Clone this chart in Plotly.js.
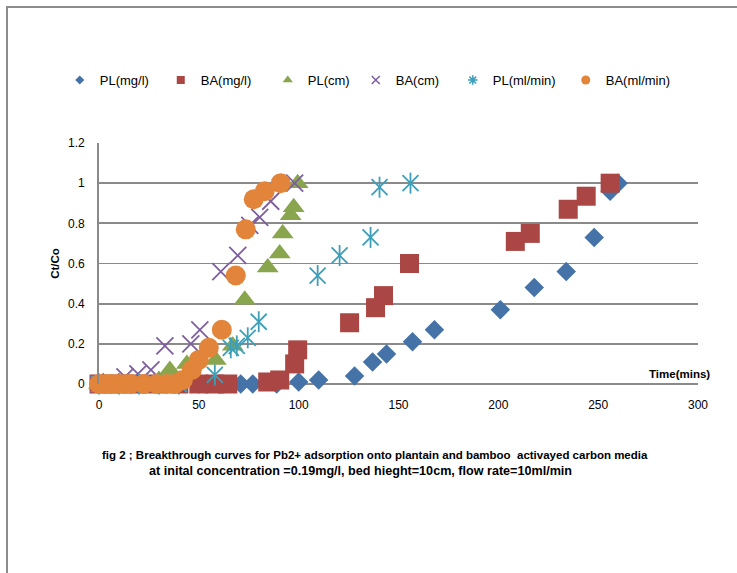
<!DOCTYPE html>
<html>
<head>
<meta charset="utf-8">
<script src="https://cdn.plot.ly/plotly-3.0.1.min.js"></script>
<style>
  html, body { margin: 0; padding: 0; background: #ffffff; }
  #wrap { position: relative; width: 737px; height: 573px; overflow: hidden; }
  #chart { position: absolute; left: 0; top: 0; width: 737px; height: 573px; }
  #frame { position: absolute; left: 6px; top: 6px; width: 760px; height: 600px;
           border-top: 2px solid #8c8c8c; border-left: 2px solid #8c8c8c; pointer-events: none; }
</style>
</head>
<body>
<div id="wrap">
  <div id="chart"></div>
  <div id="frame"></div>
</div>
<script>
// Breakthrough data: time (mins) vs Ct/Co for each run
const seriesNames = ['PL(mg/l)', 'BA(mg/l)', 'PL(cm)', 'BA(cm)', 'PL(ml/min)', 'BA(ml/min)'];

const plMgTime = [0, 5, 10, 15, 20, 25, 30, 40, 50, 60, 71, 77, 89, 100, 110, 128, 137, 144, 157, 168, 201, 218, 234, 248, 256, 260];
const plMgCtCo = [0, 0, 0, 0, 0, 0, 0, 0, 0, 0, 0, 0, 0, 0.01, 0.02, 0.04, 0.11, 0.15, 0.21, 0.27, 0.37, 0.48, 0.56, 0.73, 0.96, 1.0];

const baMgTime = [0, 10, 20, 30, 40, 50, 58, 64.5, 84.5, 90.5, 98, 99.5, 125.5, 138.5, 142.5, 155.5, 208.5, 216, 235, 244, 256];
const baMgCtCo = [0, 0, 0, 0, 0, 0, 0, 0, 0.01, 0.02, 0.1, 0.17, 0.305, 0.38, 0.44, 0.6, 0.71, 0.75, 0.87, 0.935, 1.0];

const plCmTime = [0, 10, 20, 30, 35.5, 44, 58.5, 67, 73, 84.5, 90.5, 92, 96, 97.5, 99.5];
const plCmCtCo = [0, 0, 0, 0.02, 0.07, 0.1, 0.12, 0.19, 0.42, 0.58, 0.65, 0.75, 0.84, 0.88, 1.0];

const baCmTime = [0, 6, 13, 19.5, 26, 33, 46, 50.5, 61, 69.5, 75.5, 80.5, 86, 98];
const baCmCtCo = [0, 0.01, 0.035, 0.05, 0.07, 0.19, 0.2, 0.27, 0.56, 0.64, 0.79, 0.83, 0.91, 1.0];

const plFlowTime = [0, 10, 20, 30, 40, 58, 66, 69, 74.5, 80, 109.5, 120.5, 136, 140.5, 156];
const plFlowCtCo = [0, 0, 0, 0, 0, 0.045, 0.18, 0.19, 0.23, 0.31, 0.54, 0.64, 0.73, 0.98, 1.0];

const baFlowTime = [0, 3, 6, 9.5, 13, 16, 22.5, 29, 34, 38, 42, 46.5, 50, 55, 61.5, 68.5, 73.5, 77.5, 83, 91];
const baFlowCtCo = [0, 0, 0, 0, 0, 0, 0, 0, 0, 0, 0.02, 0.07, 0.12, 0.18, 0.27, 0.54, 0.77, 0.92, 0.96, 1.0];

const xTicks = [0, 50, 100, 150, 200, 250, 300];
const yTicks = [0, 0.2, 0.4, 0.6, 0.8, 1, 1.2];

const colors = {
  blue: '#4572a7', red: '#aa4643', green: '#89a54e',
  purple: '#7d5fa0', teal: '#3d9fb8', orange: '#e2843a'
};

function pts(x, y, marker, extra) {
  return Object.assign({
    type: 'scatter', mode: 'markers', x: x, y: y,
    marker: marker, showlegend: false, cliponaxis: false, hoverinfo: 'x+y'
  }, extra || {});
}

function legendProxy(name, marker, width) {
  return {
    type: 'scatter', mode: 'markers', x: [null], y: [null], name: name,
    marker: marker, showlegend: true, legendwidth: width, hoverinfo: 'skip'
  };
}

const data = [
  pts(plMgTime, plMgCtCo, {symbol: 'diamond', size: 15, color: colors.blue, line: {width: 0}}, {legendgroup: 'a'}),
  pts(baMgTime, baMgCtCo, {symbol: 'square', size: 19, color: colors.red, line: {width: 0}}, {legendgroup: 'b'}),
  pts(plCmTime, plCmCtCo, {symbol: 'triangle-up', size: 19, color: colors.green, line: {width: 0}}, {legendgroup: 'c'}),
  pts(baCmTime, baCmCtCo, {symbol: 'x-thin-open', size: 17, color: colors.purple, line: {width: 1.8, color: colors.purple}}, {legendgroup: 'd'}),
  pts(plFlowTime, plFlowCtCo, {symbol: 'x-thin-open', size: 16, color: colors.teal, line: {width: 1.8, color: colors.teal}}, {legendgroup: 'e'}),
  pts(plFlowTime, plFlowCtCo, {symbol: 'line-ns-open', size: 15, color: colors.teal, line: {width: 1.8, color: colors.teal}}, {legendgroup: 'e'}),
  pts(baFlowTime, baFlowCtCo, {symbol: 'circle', size: 20, color: colors.orange, line: {width: 0}}, {legendgroup: 'f'}),

  legendProxy(seriesNames[0], {symbol: 'diamond', size: 7, color: colors.blue}, 56),
  legendProxy(seriesNames[1], {symbol: 'square', size: 8, color: colors.red}, 62),
  legendProxy(seriesNames[2], {symbol: 'triangle-up', size: 9, color: colors.green}, 43),
  legendProxy(seriesNames[3], {symbol: 'x-thin-open', size: 8, color: colors.purple, line: {width: 1.5, color: colors.purple}}, 52),
  legendProxy(seriesNames[4], {symbol: 'asterisk-open', size: 8, color: colors.teal, line: {width: 1.5, color: colors.teal}}, 68),
  legendProxy(seriesNames[5], {symbol: 'circle', size: 9, color: colors.orange}, 70)
];
data.slice(7).forEach((t, i) => { t.legendgroup = 'abcdef'[i]; });

const font = 'Liberation Sans, Arial, sans-serif';

const layout = {
  width: 737, height: 573,
  margin: {l: 99, r: 39, t: 143, b: 189},
  paper_bgcolor: '#ffffff', plot_bgcolor: '#ffffff',
  font: {family: font, size: 12, color: '#000000'},
  showlegend: true,
  legend: {
    orientation: 'h', x: -0.0655, xanchor: 'left', y: 1.261, yanchor: 'middle',
    font: {family: font, size: 13, color: '#000000'},
    bgcolor: 'rgba(0,0,0,0)', borderwidth: 0, traceorder: 'normal'
  },
  xaxis: {
    range: [0, 300], tickvals: xTicks, ticktext: xTicks.map(String),
    showgrid: false, zeroline: false, showline: false,
    ticks: 'outside', ticklen: 10, tickcolor: 'rgba(0,0,0,0)',
    tickfont: {family: font, size: 12, color: '#000000'}, fixedrange: true
  },
  yaxis: {
    range: [0, 1.2], tickvals: yTicks, ticktext: yTicks.map(String),
    showgrid: true, gridcolor: '#8a8a8a', gridwidth: 1.8,
    zeroline: true, zerolinecolor: '#8a8a8a', zerolinewidth: 1.8,
    showline: true, linecolor: '#8a8a8a', linewidth: 1.8,
    ticks: 'outside', ticklen: 10, tickcolor: 'rgba(0,0,0,0)',
    tickfont: {family: font, size: 12, color: '#000000'},
    title: {text: '<b>Ct/Co</b>', font: {family: font, size: 11.5, color: '#000000'}, standoff: 6},
    fixedrange: true
  },
  annotations: [
    {text: '<b>Time(mins)</b>', xref: 'paper', yref: 'paper', x: 1, y: 0,
     xanchor: 'right', yanchor: 'bottom', xshift: 14, yshift: 2, showarrow: false,
     font: {family: font, size: 11.5, color: '#000000'}},
    {text: '<b>fig 2 ; Breakthrough curves for Pb2+ adsorption onto plantain and bamboo  activayed carbon media</b>',
     xref: 'paper', yref: 'paper', x: 0.461, y: -0.295, xanchor: 'center', yanchor: 'middle',
     showarrow: false, font: {family: font, size: 11.5, color: '#000000'}},
    {text: '<b>at inital concentration =0.19mg/l, bed hieght=10cm, flow rate=10ml/min</b>',
     xref: 'paper', yref: 'paper', x: 0.436, y: -0.361, xanchor: 'center', yanchor: 'middle',
     showarrow: false, font: {family: font, size: 12.6, color: '#000000'}}
  ]
};

Plotly.newPlot('chart', data, layout, {staticPlot: true, displayModeBar: false});
</script>
</body>
</html>
